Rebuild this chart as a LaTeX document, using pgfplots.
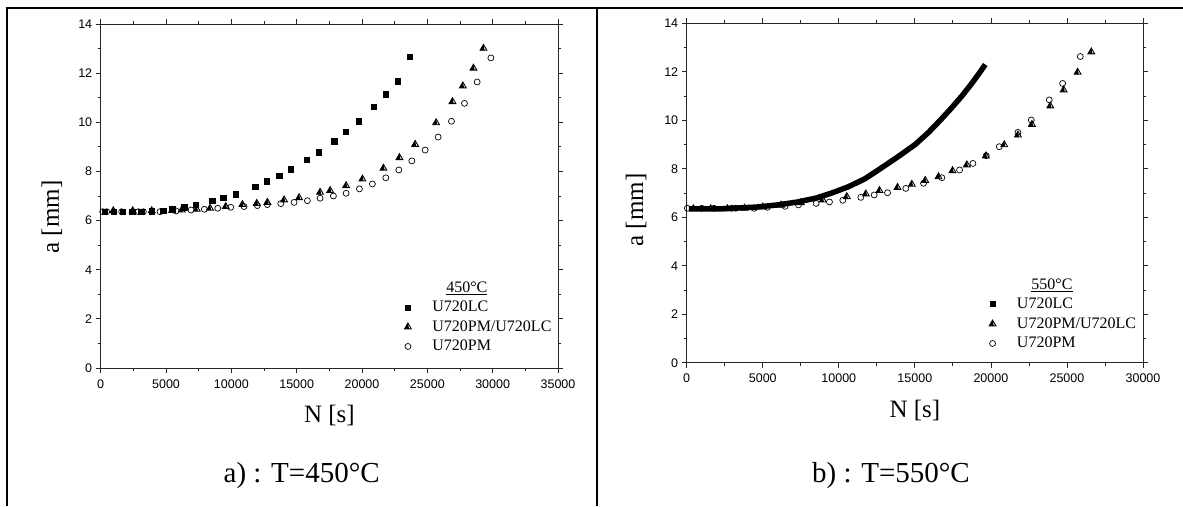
\documentclass[border=0pt]{standalone}
\usepackage{fontspec}
\setmainfont{Liberation Serif}
\newfontfamily\arialfont{Liberation Sans}
\usepackage{pgfplots}
\pgfplotsset{compat=1.18}

% triangle, left part filled
\pgfdeclareplotmark{halftri}{%
  \pgfpathmoveto{\pgfqpoint{0pt}{\pgfplotmarksize}}%
  \pgfpathlineto{\pgfqpoint{-0.866\pgfplotmarksize}{-0.5\pgfplotmarksize}}%
  \pgfpathlineto{\pgfqpoint{0.3\pgfplotmarksize}{-0.5\pgfplotmarksize}}%
  \pgfpathclose
  \pgfusepathqfill
  \pgfpathmoveto{\pgfqpoint{0pt}{\pgfplotmarksize}}%
  \pgfpathlineto{\pgfqpoint{-0.866\pgfplotmarksize}{-0.5\pgfplotmarksize}}%
  \pgfpathlineto{\pgfqpoint{0.866\pgfplotmarksize}{-0.5\pgfplotmarksize}}%
  \pgfpathclose
  \pgfusepathqstroke
}

\pgfplotsset{
  mylegend/.style={legend image code/.code={\draw[##1] plot coordinates {(0pt,0pt)};}},
  lc/.style={only marks, mark=square*, mark size=2.7pt, black, mylegend},
  pmlc/.style={only marks, mark=halftri, mark size=3.9pt, black, line width=0.9pt, mylegend},
  pm/.style={only marks, mark=o, mark size=3pt, black, line width=0.7pt, mylegend},
  panel/.style={
    scale only axis, anchor=south west, clip=false,
    ymin=0, ymax=14, ytick={0,2,...,14}, xmin=0,
    minor x tick num=1, minor y tick num=1,
    tick align=outside, major tick length=5pt, minor tick length=3pt,
    axis line style={line width=0.9pt, black!85},
    every tick/.style={black!85, line width=0.8pt},
    ticklabel style={font=\arialfont\fontsize{12.5}{14}\selectfont},
    xticklabel={\arialfont\pgfmathprintnumber{\tick}},
    yticklabel={\arialfont\pgfmathprintnumber{\tick}},
    xticklabel shift=3pt,
    /pgf/number format/assume math mode=true,
    /pgf/number format/1000 sep={},
    scaled x ticks=false,
    xlabel={N [s]}, ylabel={a [mm]},
    xlabel style={anchor=center, font=\fontsize{25}{30}\selectfont},
    ylabel style={anchor=center, font=\fontsize{25}{30}\selectfont},
    legend cell align=left,
    legend style={draw=none, fill=none, anchor=north west, inner sep=0pt,
      font=\fontsize{16}{18}\selectfont, column sep=21pt, row sep=2.5pt,
      nodes={inner sep=0pt, text height=13pt, text depth=4pt}},
  },
}

\begin{document}
\begin{tikzpicture}
\path[use as bounding box] (0pt,0pt) rectangle (1183pt,506pt);
% table rules
\draw[line width=2pt] (7.3pt,497.7pt) -- (1183pt,497.7pt);
\draw[line width=2pt] (7.3pt,498.7pt) -- (7.3pt,0pt);
\draw[line width=2pt] (596.7pt,498.7pt) -- (596.7pt,0pt);

\begin{axis}[panel,
  at={(100.7pt,138pt)}, width=457.3pt, height=344pt,
  xmax=35000, xtick={0,5000,...,35000},
  xlabel style={at={(axis description cs:0.5,-0.1395)}},
  ylabel style={at={(axis description cs:-0.1065,0.439)}},
  legend style={at={(axis description cs:0.664,0.258)}},
]
\addlegendimage{empty legend}
\addlegendentry{\hspace{14pt}\underline{450°C}}
\addplot[lc] coordinates {
(300,6.36)(1000,6.36)(1700,6.36)(2400,6.36)(3100,6.37)(3900,6.38)(4795,6.40)
(5485,6.46)(6378,6.54)(7273,6.65)(8522,6.80)(9390,6.92)(10336,7.08)(11815,7.39)
(12710,7.60)(13652,7.83)(14548,8.09)(15773,8.47)(16662,8.78)(17864,9.23)
(18760,9.62)(19725,10.04)(20873,10.64)(21822,11.15)(22741,11.68)(23631,12.66)
};
\addlegendentry{U720LC}
\addplot[pmlc] coordinates {
(965,6.40)(2450,6.40)(3905,6.40)(5460,6.41)(6202,6.43)(7351,6.46)(8369,6.50)
(9571,6.57)(10843,6.65)(11945,6.70)(12757,6.74)(14035,6.84)(15184,6.93)
(16792,7.15)(17558,7.22)(18783,7.42)(20031,7.69)(21640,8.13)(22864,8.56)
(24066,9.10)(25674,9.98)(26923,10.84)(27718,11.48)(28530,12.20)(29296,13.01)
};
\addlegendentry{U720PM/U720LC}
\addplot[pm] coordinates {
(153,6.36)(459,6.36)(1608,6.36)(2879,6.36)(3262,6.36)(4541,6.36)(5766,6.39)
(6914,6.43)(7933,6.46)(8959,6.50)(9954,6.54)(10973,6.57)(11991,6.61)(12757,6.65)
(13783,6.69)(14801,6.74)(15819,6.81)(16792,6.91)(17810,7.00)(18783,7.11)
(19801,7.29)(20797,7.49)(21822,7.74)(22818,8.06)(23813,8.43)(24832,8.87)
(25827,9.40)(26846,10.04)(27842,10.77)(28814,11.64)(29862,12.62)
};
\addlegendentry{U720PM}
\end{axis}

\begin{axis}[panel,
  at={(686.7pt,143.3pt)}, width=456.3pt, height=339.4pt,
  xmax=30000, xtick={0,5000,...,30000},
  xlabel style={at={(axis description cs:0.5,-0.1414)}},
  ylabel style={at={(axis description cs:-0.1111,0.450)}},
  legend style={at={(axis description cs:0.6625,0.2546)}},
]
\addlegendimage{empty legend}
\addlegendentry{\hspace{14.5pt}\underline{550°C}}
\addplot[black, line width=5.5pt, line join=round,
  legend image code/.code={\fill[black, draw=none] (-3pt,-3pt) rectangle (3pt,3pt);}]
  coordinates {
(150,6.34)(2400,6.35)(4600,6.42)(6000,6.51)(7300,6.63)(8500,6.79)(9540,7.00)
(10600,7.25)(11700,7.58)(12720,8.00)(13900,8.50)(15020,9.00)(15900,9.50)
(16670,10.00)(17400,10.50)(18090,11.00)(18720,11.50)(19300,12.00)(19630,12.30)
};
\addlegendentry{U720LC}
\addplot[pmlc] coordinates {
(439,6.35)(1579,6.35)(2675,6.35)(3800,6.37)(5000,6.42)(6200,6.50)(7500,6.60)
(8947,6.71)(10526,6.85)(11776,6.96)(12676,7.10)(13860,7.23)(14803,7.36)
(15680,7.52)(16557,7.67)(17478,7.92)(18421,8.16)(19671,8.53)(20877,8.99)
(21776,9.39)(22698,9.83)(23904,10.59)(24781,11.25)(25702,11.98)(26601,12.82)
};
\addlegendentry{U720PM/U720LC}
\addplot[pm] coordinates {
(44,6.37)(987,6.37)(1798,6.37)(2961,6.37)(3224,6.37)(4430,6.37)(5307,6.41)
(6469,6.45)(7347,6.51)(8509,6.57)(9386,6.63)(10263,6.70)(11447,6.82)(12325,6.92)
(13202,7.01)(14408,7.19)(15570,7.40)(16776,7.63)(17939,7.95)(18816,8.22)
(19693,8.54)(20548,8.91)(21776,9.50)(22654,10.01)(23838,10.84)(24715,11.52)
(25877,12.63)
};
\addlegendentry{U720PM}
\end{axis}

\node[font=\fontsize{29}{34}\selectfont] at (301.7pt,30pt) {a) : T=450°C};
\node[font=\fontsize{29}{34}\selectfont] at (891pt,30pt) {b) : T=550°C};
\end{tikzpicture}
\end{document}
